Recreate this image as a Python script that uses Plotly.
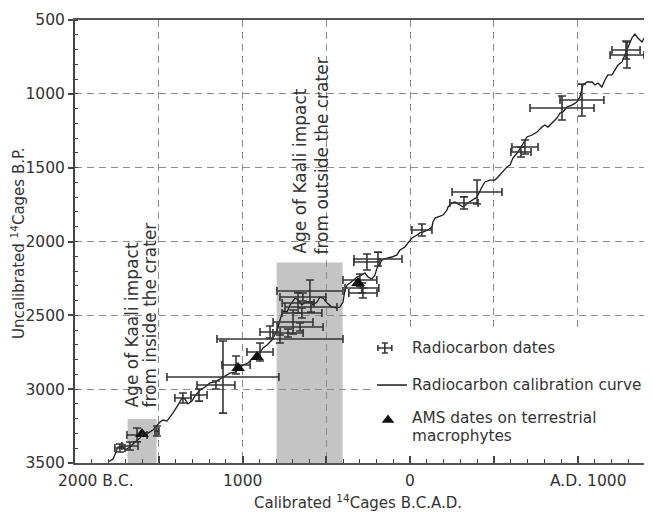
import plotly.graph_objects as go

# ---- calibration curve (calibrated year, negative = B.C.; radiocarbon age B.P.)
curve_year = [-1803, -1773, -1743, -1720, -1702, -1672, -1642, -1612, -1594, -1564,
              -1535, -1511, -1493, -1475, -1451, -1433, -1415, -1385, -1362, -1344,
              -1326, -1302, -1284, -1254, -1224, -1194, -1165, -1135, -1105, -1075,
              -1045, -1027, -998, -968, -938, -908, -878, -854, -825, -795,
              -777, -759, -735, -717, -687, -669, -646, -628, -598, -580,
              -556, -538, -520, -496, -467, -437, -419, -401, -389, -377,
              -359, -341, -317, -288, -270, -252, -228, -210, -198, -168,
              -138, -109, -79, -61, -31, -13, 11, 41, 58, 76,
              106, 130, 136, 148, 166, 196, 220, 226, 249, 267,
              297, 315, 345, 375, 399, 428, 446, 476, 506, 524,
              554, 578, 596, 613, 643, 673, 697, 727, 757, 786,
              804, 822, 846, 876, 894, 912, 936, 965, 995, 1013,
              1031, 1055, 1085, 1103, 1121, 1144, 1162, 1180, 1204, 1222,
              1240, 1264, 1282, 1300, 1323, 1341, 1359, 1383, 1401]
curve_bp = [3493, 3473, 3392, 3385, 3412, 3392, 3358, 3331, 3297, 3297,
            3277, 3243, 3222, 3209, 3216, 3188, 3161, 3107, 3060, 3067,
            3100, 3080, 3046, 3006, 2985, 2958, 2951, 2931, 2911, 2891,
            2884, 2870, 2836, 2823, 2789, 2769, 2721, 2701, 2667, 2606,
            2532, 2471, 2477, 2430, 2383, 2396, 2430, 2410, 2410, 2430,
            2410, 2376, 2383, 2416, 2444, 2450, 2444, 2410, 2328, 2295,
            2281, 2261, 2240, 2227, 2213, 2240, 2254, 2227, 2179, 2125,
            2112, 2105, 2091, 2058, 2037, 2010, 1976, 1956, 1942, 1936,
            1922, 1902, 1868, 1841, 1834, 1821, 1787, 1766, 1739, 1733,
            1753, 1766, 1739, 1719, 1699, 1631, 1597, 1584, 1584, 1563,
            1529, 1495, 1482, 1435, 1394, 1333, 1292, 1279, 1258, 1225,
            1211, 1225, 1198, 1164, 1130, 1123, 1089, 1076, 1055, 1021,
            940, 920, 920, 940, 927, 954, 906, 872, 872, 839,
            805, 784, 737, 683, 622, 595, 622, 649, 615]

# ---- radiocarbon dates with 1-sigma ranges
date_year = [-1732, -1672, -1630, -1511, -1356, -1260, -1117, -1159, -1039, -896,
             -836, -777, -598, -640, -669, -592, -646, -699, -657, -729,
             -300, -288, -282, -258, -192, 70, 399, 321, 685, 661,
             906, 1025, 1294, 1288]
date_bp = [3398, 3385, 3310, 3283, 3060, 3040, 2918, 2972, 2836, 2748,
           2613, 2660, 2335, 2376, 2416, 2444, 2484, 2545, 2579, 2620,
           2261, 2315, 2349, 2139, 2119, 1922, 1665, 1739, 1360, 1394,
           1096, 1042, 737, 703]
date_year_err = [30, 48, 60, 12, 48, 48, 334, 113, 84, 78,
                 60, 376, 197, 137, 95, 155, 119, 119, 137, 90,
                 101, 101, 84, 78, 143, 60, 149, 84, 78, 60,
                 191, 131, 101, 84]
date_bp_err = [27, 27, 47, 34, 34, 41, 244, 27, 61, 61,
               41, 27, 74, 27, 68, 34, 34, 81, 27, 27,
               41, 34, 34, 54, 47, 41, 81, 41, 47, 34,
               81, 108, 88, 61]

# ---- AMS dates on terrestrial macrophytes
ams_year = [-1600, -1027, -914, -311]
ams_bp = [3304, 2857, 2782, 2281]

# ---- shaded impact-age windows
box_year_start = [-1686, -797]
box_year_end = [-1513, -403]
box_bp_top = [3202, 2143]
box_bp_bottom = 3500

x_range = [-2000, 1443]
y_range = [3500, 500]

x_label_text = ["2000 B.C.", "1000", "0", "A.D. 1000"]
x_label_pos = [-1875, -1000, 0, 1067]

FONT = "DejaVu Sans"
INK = "#333333"

fig = go.Figure()

fig.add_trace(go.Scatter(
    x=curve_year, y=curve_bp, mode="lines",
    line=dict(color="#1a1a1a", width=1.3), showlegend=False, hoverinfo="skip"))

fig.add_trace(go.Scatter(
    x=date_year, y=date_bp, mode="markers",
    marker=dict(size=2, color="#333"),
    error_x=dict(type="data", array=date_year_err, color="#353535", thickness=1.6, width=4),
    error_y=dict(type="data", array=date_bp_err, color="#353535", thickness=1.6, width=4),
    showlegend=False))

fig.add_trace(go.Scatter(
    x=ams_year, y=ams_bp, mode="markers",
    marker=dict(symbol="triangle-up", size=12, color="#111"),
    showlegend=False))

# shaded windows
for xs, xe, yt in zip(box_year_start, box_year_end, box_bp_top):
    fig.add_shape(type="rect", xref="x", yref="y", x0=xs, x1=xe, y0=yt, y1=box_bp_bottom,
                  fillcolor="#c4c4c4", line=dict(width=0), layer="below")

# white legend background
fig.add_shape(type="rect", xref="x", yref="y", x0=-228, x1=x_range[1], y0=2599, y1=3459,
              fillcolor="white", line=dict(width=0), layer="between")

# ---- legend glyphs on an overlay (paper-like) axis pair
fig.add_trace(go.Scatter(
    x=[0.537], y=[0.2596], mode="markers", marker=dict(size=1, color="#333"),
    error_x=dict(type="constant", value=0.0121, color="#353535", thickness=1.6, width=3),
    error_y=dict(type="constant", value=0.0113, color="#353535", thickness=1.6, width=3),
    xaxis="x2", yaxis="y2", showlegend=False))
fig.add_trace(go.Scatter(
    x=[0.5234, 0.5754], y=[0.176, 0.176], mode="lines",
    line=dict(color="#1a1a1a", width=1.5), xaxis="x2", yaxis="y2", showlegend=False))
fig.add_trace(go.Scatter(
    x=[0.5425], y=[0.0971], mode="markers",
    marker=dict(symbol="triangle-up", size=11, color="#111"),
    xaxis="x2", yaxis="y2", showlegend=False))

annotations = []
legend_rows = [("Radiocarbon dates", 0.2596),
               ("Radiocarbon calibration curve", 0.176),
               ("AMS dates on terrestrial", 0.1016),
               ("macrophytes", 0.061)]
for txt, yy in legend_rows:
    annotations.append(dict(text=txt, xref="paper", yref="paper", x=0.5806, y=yy,
                            xanchor="left", yanchor="middle", showarrow=False,
                            font=dict(family=FONT, size=15.3, color=INK)))

# rotated impact labels
rot = [("Age of Kaali impact", 0.0988, 0.1196),
       ("from inside the crater", 0.130, 0.1196),
       ("Age of Kaali impact", 0.390, 0.467),
       ("from outside the crater", 0.428, 0.467)]
for txt, xx, yy in rot:
    annotations.append(dict(text=txt, xref="paper", yref="paper", x=xx, y=yy,
                            xanchor="center", yanchor="bottom", textangle=-90,
                            showarrow=False, font=dict(family=FONT, size=17, color=INK)))

# x tick labels
for txt, xx in zip(x_label_text, x_label_pos):
    annotations.append(dict(text=txt, xref="x", yref="paper", x=xx, y=-0.0406,
                            xanchor="center", yanchor="middle", showarrow=False,
                            font=dict(family=FONT, size=15.5, color=INK)))

# axis titles
annotations.append(dict(text="Calibrated <sup>14</sup>Cages B.C.A.D.", xref="paper", yref="paper",
                        x=0.490, y=-0.088, xanchor="center", yanchor="middle", showarrow=False,
                        font=dict(family=FONT, size=15, color=INK)))
annotations.append(dict(text="Uncalibrated <sup>14</sup>Cages B.P.", xref="paper", yref="paper",
                        x=-0.0988, y=0.4966, xanchor="center", yanchor="middle", textangle=-90,
                        showarrow=False, font=dict(family=FONT, size=15, color=INK)))

# the page body adds an 8px offset, so the figure is sized to fit the viewport
fig.update_layout(
    width=644, height=509,
    margin=dict(l=67, r=0, t=12, b=54),
    paper_bgcolor="white", plot_bgcolor="white",
    showlegend=False,
    annotations=annotations,
    xaxis=dict(range=x_range, tickmode="linear", tick0=-2000, dtick=500,
               showticklabels=False, ticks="inside", ticklen=7, tickwidth=1.5, tickcolor="#444",
               showline=True, linecolor="#555", linewidth=2, mirror=True,
               showgrid=True, gridcolor="#8c8c8c", griddash="7px,5px", gridwidth=1.4,
               zeroline=False,
               minor=dict(tick0=-2000, dtick=100, ticks="inside", ticklen=4, tickwidth=1,
                          tickcolor="#444", showgrid=False)),
    yaxis=dict(range=y_range, tickmode="linear", tick0=500, dtick=500,
               ticks="outside", ticklen=5, tickwidth=1.5, tickcolor="#444",
               tickfont=dict(family=FONT, size=15.5, color=INK),
               showline=True, linecolor="#444", linewidth=2,
               showgrid=True, gridcolor="#8c8c8c", griddash="7px,5px", gridwidth=1.4,
               zeroline=False,
               minor=dict(tick0=500, dtick=100, ticks="inside", ticklen=3, tickwidth=1,
                          tickcolor="#444", showgrid=False)),
    xaxis2=dict(overlaying="x", range=[0, 1], visible=False, anchor="y2"),
    yaxis2=dict(overlaying="y", range=[0, 1], visible=False, anchor="x2"),
)

fig.write_html("out.html")
